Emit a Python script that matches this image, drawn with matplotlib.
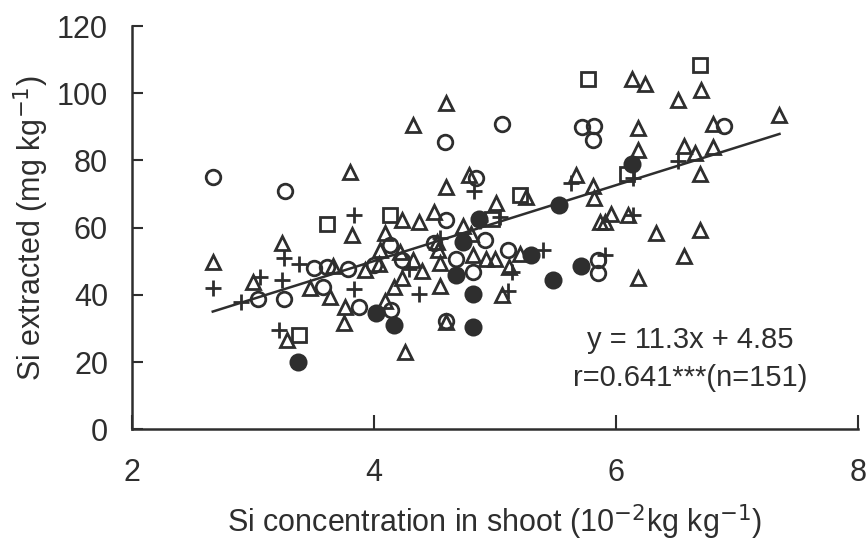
import matplotlib
matplotlib.use('Agg')
import matplotlib.pyplot as plt

plt.rcParams['font.family'] = ['Liberation Sans Narrow', 'Liberation Sans', 'DejaVu Sans']

# open circles
circ_x = [2.67, 3.27, 5.06, 4.59, 5.72, 5.82, 5.81, 6.89, 4.84, 4.60, 4.13, 4.14,
          4.23, 4.68, 4.82, 4.92, 5.11, 5.85, 5.85, 4.60, 3.51, 3.61, 3.79, 3.58,
          3.88, 3.04, 3.26, 4.00, 4.50]
circ_y = [75.1, 70.9, 91.0, 85.4, 90.0, 90.2, 86.1, 90.3, 74.9, 62.2, 54.8, 35.4,
          50.3, 50.8, 46.8, 56.3, 53.3, 50.3, 46.4, 32.3, 48.1, 48.3, 47.8, 42.4,
          36.5, 38.7, 38.9, 49.0, 55.5]

# open triangles
tri_x = [3.80, 6.13, 6.24, 6.51, 4.60, 4.32, 6.18, 6.18, 4.79, 4.60, 5.26, 5.01,
         5.67, 5.81, 6.70, 7.35, 6.80, 6.56, 6.65, 6.80, 6.69, 5.82, 5.87, 5.96,
         5.91, 6.10, 6.33, 6.69, 6.56, 6.18, 5.21, 5.12, 5.06, 4.23, 4.37, 4.50,
         4.74, 4.09, 4.05, 4.04, 4.22, 4.32, 4.40, 4.23, 4.17, 4.55, 4.09, 4.26,
         4.52, 4.53, 4.55, 4.82, 4.93, 5.00, 3.82, 3.24, 2.67, 3.66, 3.93, 3.00,
         3.47, 3.64, 3.76, 3.75, 3.28, 4.60, 4.80]
tri_y = [76.6, 104.2, 102.7, 98.0, 97.0, 90.5, 89.8, 83.1, 75.8, 72.2, 69.2, 67.2,
         75.6, 72.5, 101.0, 93.5, 90.8, 84.4, 82.1, 83.9, 75.9, 68.7, 61.7, 64.2,
         61.7, 63.7, 58.3, 59.3, 51.5, 45.1, 52.3, 48.3, 39.9, 62.2, 61.7, 64.7,
         60.4, 58.5, 53.3, 49.3, 52.8, 50.5, 47.0, 44.9, 42.4, 42.7, 38.2, 23.0,
         55.8, 53.3, 49.5, 52.0, 50.8, 50.8, 57.8, 55.5, 49.8, 48.5, 47.3, 43.9,
         41.9, 39.4, 36.4, 31.5, 26.5, 32.0, 58.0]

# plus
plus_x = [5.63, 6.14, 4.83, 6.51, 5.04, 6.14, 5.91, 5.40, 5.14, 5.11, 4.29, 4.37,
          3.84, 2.67, 3.26, 3.38, 3.06, 3.24, 3.84, 2.90, 3.22, 4.88, 4.55]
plus_y = [73.2, 74.8, 71.0, 79.8, 63.2, 63.7, 51.8, 53.3, 46.8, 41.1, 47.8, 40.4,
          63.7, 41.9, 51.0, 49.3, 45.4, 44.4, 41.6, 38.0, 29.5, 62.0, 57.0]

# open squares
sq_x = [5.77, 6.69, 6.09, 5.21, 4.13, 3.61, 3.38, 4.98]
sq_y = [104.4, 108.4, 75.9, 69.7, 63.9, 61.2, 28.0, 62.5]

# filled circles
fill_x = [3.37, 4.02, 4.17, 4.82, 4.82, 4.68, 4.74, 5.30, 5.48, 5.71, 5.53, 6.13, 4.87]
fill_y = [20.0, 34.7, 31.0, 30.5, 40.4, 45.9, 55.8, 51.9, 44.4, 48.6, 66.7, 79.1, 62.7]

slope, intercept = 11.3, 4.85
line_x = [2.67, 7.35]

ink = '#2e2e2e'

fig = plt.figure(figsize=(8.66, 5.44), dpi=100)
ax = fig.add_axes([0.152, 0.211, 0.839, 0.741])

kw = dict(linestyle='none', color=ink, markeredgewidth=2.0)
ax.plot(circ_x, circ_y, marker='o', markersize=10.5, markerfacecolor='none', **kw)
ax.plot(tri_x, tri_y, marker='^', markersize=10.5, markerfacecolor='none', **kw)
ax.plot(plus_x, plus_y, marker='+', markersize=12, **kw)
ax.plot(sq_x, sq_y, marker='s', markersize=10, markerfacecolor='none', **kw)
ax.plot(fill_x, fill_y, marker='o', markersize=11, markerfacecolor=ink, **kw)
ax.plot(line_x, [slope * v + intercept for v in line_x], color=ink, linewidth=1.8)

ax.set_xlim(2, 8)
ax.set_ylim(0, 120)
ax.set_xticks([2, 4, 6, 8])
ax.set_yticks(range(0, 121, 20))
ax.spines['top'].set_visible(False)
ax.spines['right'].set_visible(False)
for s in ('left', 'bottom'):
    ax.spines[s].set_linewidth(1.8)
    ax.spines[s].set_color(ink)
ax.tick_params(axis='both', direction='in', width=1.5, color=ink, labelsize=22,
               labelcolor=ink)
ax.tick_params(axis='x', length=10, pad=21)
ax.tick_params(axis='y', length=8, pad=17)

ax.set_xlabel('Si concentration in shoot (10$^{-2}$kg kg$^{-1}$)', fontsize=22,
              color=ink, labelpad=10)
ax.set_ylabel('Si extracted (mg kg$^{-1}$)', fontsize=22, color=ink, labelpad=4)

ax.text(6.61, 26.5, 'y = 11.3x + 4.85', fontsize=21, color=ink, ha='center', va='center')
ax.text(6.61, 15.2, 'r=0.641***(n=151)', fontsize=21, color=ink, ha='center', va='center')

fig.savefig('out.png', dpi=100)
